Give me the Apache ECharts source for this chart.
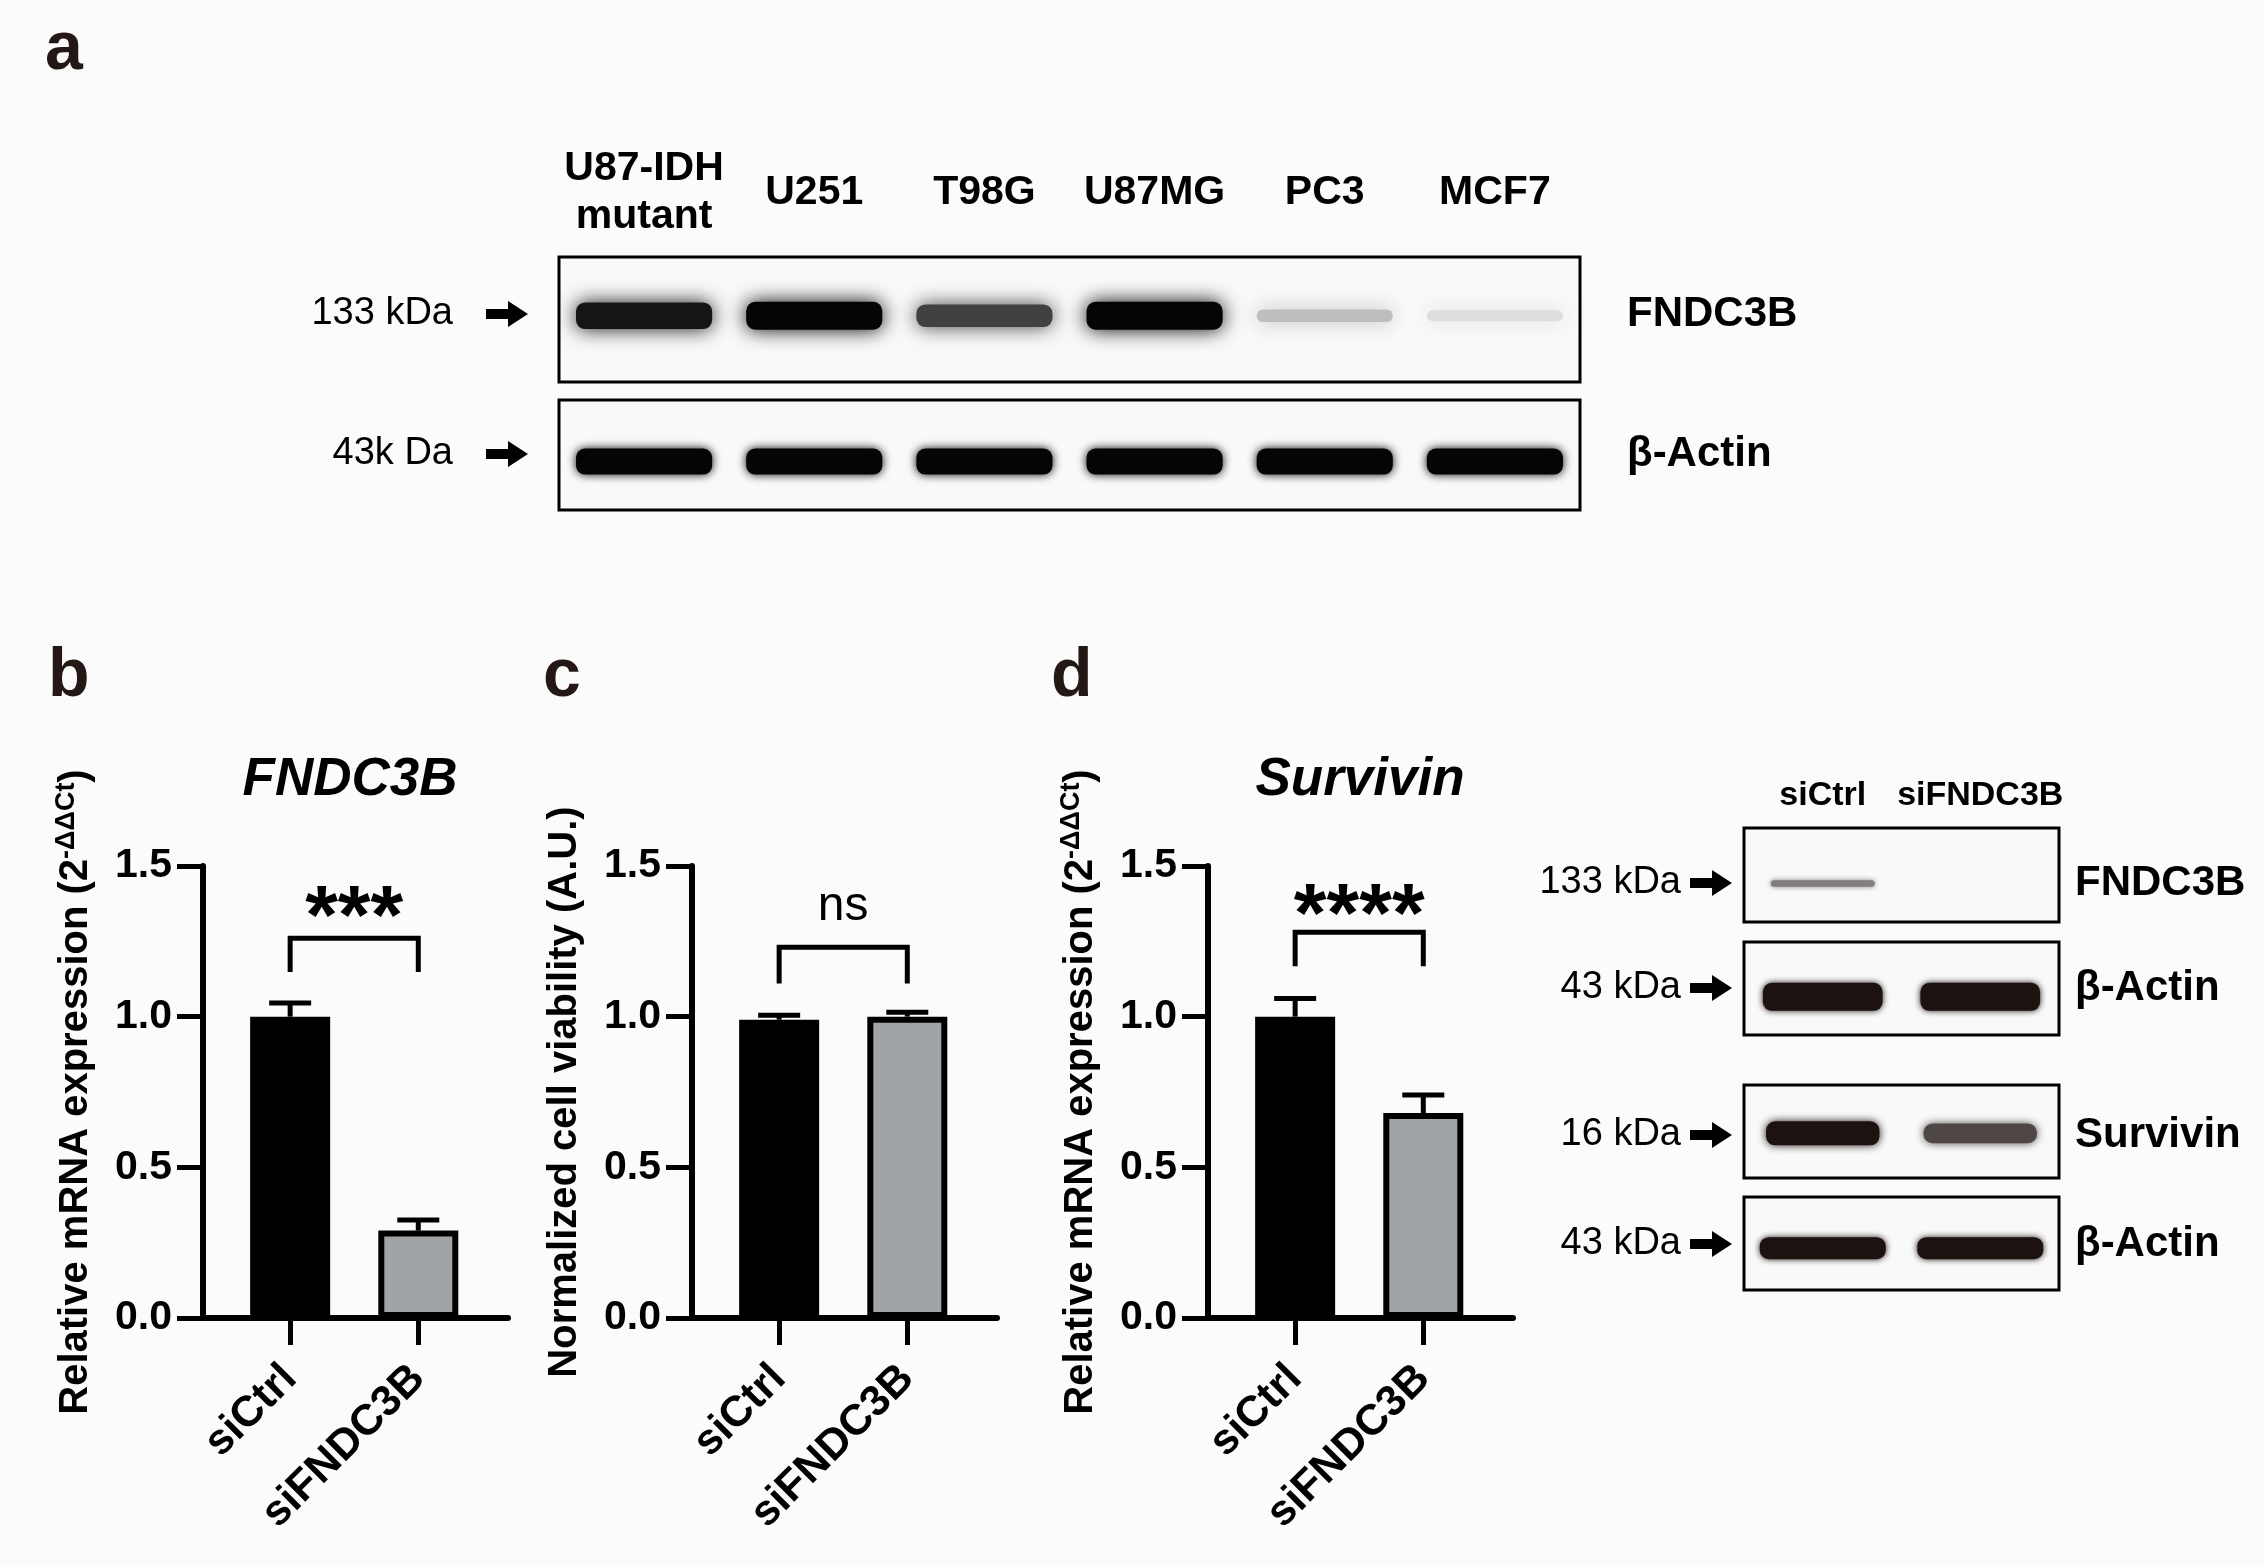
<!DOCTYPE html>
<html><head><meta charset="utf-8">
<script src="https://cdn.jsdelivr.net/npm/echarts@6/dist/echarts.min.js"></script>
<style>html,body{margin:0;padding:0;background:#fbfbfb}#c{width:2264px;height:1566px}</style>
</head><body><div id="c"></div>
<script>
// ---------------- DATA ----------------
const groups = ['siCtrl', 'siFNDC3B'];
const fndc3bMean = [1.0, 0.29];
const fndc3bSem = [0.045, 0.035];
const viabilityMean = [0.99, 1.0];
const viabilitySem = [0.015, 0.015];
const survivinMean = [1.0, 0.68];
const survivinSem = [0.06, 0.06];
const yTickValues = [0, 0.5, 1.0, 1.5];
const sigLabels = ['***', 'ns', '****'];

const cellLines = ['U87-IDH\nmutant', 'U251', 'T98G', 'U87MG', 'PC3', 'MCF7'];
const blotA_FNDC3B = [0.92, 1.0, 0.7, 1.0, 0.16, 0.06];
const blotA_actin = [1.0, 1.0, 1.0, 1.0, 1.0, 1.0];
const blotD_FNDC3B = [0.45, 0.0];
const blotD_actin1 = [1.0, 1.0];
const blotD_survivin = [1.0, 0.72];
const blotD_actin2 = [1.0, 1.0];

const blotALeft = ['133 kDa', '43k Da'];
const blotARight = ['FNDC3B', '\u03B2-Actin'];
const blotDLeft = ['133 kDa', '43 kDa', '16 kDa', '43 kDa'];
const blotDRight = ['FNDC3B', '\u03B2-Actin', 'Survivin', '\u03B2-Actin'];

// ---------------- HELPERS ----------------
const FONT = '"Liberation Sans", Arial, Helvetica, sans-serif';
const BAR_COLORS = ['#000000', '#a1a4a7'];
const X_MIN = -0.68, X_MAX = 1.70;

function errRender(params, api) {
  const x = api.value(0), m = api.value(1), e = api.value(2);
  const a = api.coord([x, m]);
  const ax = a[0], ay = a[1];
  const b = api.coord([x, m + e]);
  const bx = b[0], by = b[1];
  return { type: 'group', children: [
    { type: 'line', shape: { x1: ax, y1: ay, x2: bx, y2: by }, style: { stroke: '#000', lineWidth: 5, fill: 'none' } },
    { type: 'line', shape: { x1: bx - 21, y1: by, x2: bx + 21, y2: by }, style: { stroke: '#000', lineWidth: 5, fill: 'none' } }
  ]};
}

function sigTextRender(sig) {
  const isNs = sig === 'ns';
  return function (params, api) {
    const p = api.coord([api.value(0), api.value(1)]);
    return { type: 'text', x: p[0], y: p[1], style: { text: sig, textAlign: 'center', align: 'center',
      textVerticalAlign: 'middle', verticalAlign: 'middle',
      font: (isNs ? 'normal 48px ' : 'bold 84px ') + FONT, fill: '#000' } };
  };
}

function barPanel(i, mean, sem, sig, top, leg, ty) {
  return [
    { type: 'bar', xAxisIndex: i, yAxisIndex: i, barWidth: 80, z: 2, silent: true,
      data: mean.map((v, k) => ({ value: [k, v], itemStyle: { color: BAR_COLORS[k], borderColor: '#000', borderWidth: 6 } })) },
    { type: 'custom', xAxisIndex: i, yAxisIndex: i, z: 3, silent: true,
      data: mean.map((v, k) => [k, v, sem[k]]), renderItem: errRender },
    { type: 'line', xAxisIndex: i, yAxisIndex: i, z: 3, silent: true, symbol: 'none',
      lineStyle: { color: '#000', width: 5, cap: 'butt', join: 'miter' },
      data: [[0, leg], [0, top], [1, top], [1, leg]] },
    { type: 'custom', xAxisIndex: i, yAxisIndex: i, z: 3, silent: true,
      data: [[0.5, ty]], renderItem: sigTextRender(sig) }
  ];
}

function mix(c1, c2, t) {
  const p = c => [1, 3, 5].map(j => parseInt(c.substr(j, 2), 16));
  const a = p(c1), b = p(c2);
  return 'rgb(' + a.map((v, j) => Math.round(v + (b[j] - v) * t)).join(',') + ')';
}

function blotSeries(gi, signal, opt) {
  return { type: 'custom', xAxisIndex: gi, yAxisIndex: gi, clip: true, silent: true, z: 2,
    data: signal.map((s, k) => [k, s]),
    renderItem(params, api) {
      const s = api.value(1);
      if (!(s > 0)) return null;
      const c = api.coord([api.value(0), opt.y]);
      const cx = c[0], cy = c[1];
      const bw = api.size([1, 0])[0];
      const w = bw * opt.w, h = opt.h * (0.35 + 0.65 * s);
      const col = mix('#f6f6f6', opt.color, Math.pow(s, 0.8));
      return { type: 'rect', shape: { x: cx - w / 2, y: cy - h / 2, width: w, height: h, r: Math.min(h / 2, 9) },
        style: { fill: col, shadowBlur: opt.blur, shadowColor: col } };
    } };
}

// ---------------- LAYOUT ----------------
const barLefts = [203, 692, 1208];
const blotGridDefs = [
  { left: 559, top: 257, width: 1021, height: 125 },
  { left: 559, top: 400, width: 1021, height: 110 },
  { left: 1744, top: 828, width: 315, height: 94 },
  { left: 1744, top: 942, width: 315, height: 93 },
  { left: 1744, top: 1085, width: 315, height: 93 },
  { left: 1744, top: 1197, width: 315, height: 93 }
];

const grids = [];
const xAxes = [];
const yAxes = [];
const yNames = [
  '{a|Relative mRNA expression (2}{s|-\u0394\u0394Ct}{a|)}',
  '{a|Normalized cell viability (A.U.)}',
  '{a|Relative mRNA expression (2}{s|-\u0394\u0394Ct}{a|)}'
];

barLefts.forEach((l, i) => {
  grids.push({ left: l, top: 866, width: 305, height: 452, show: false, containLabel: false, outerBoundsMode: 'none' });
  xAxes.push({ gridIndex: i, type: 'value', min: X_MIN, max: X_MAX,
    axisLine: { show: true, onZero: false, lineStyle: { color: '#000', width: 6 } },
    axisTick: { show: true, customValues: [0, 1], length: 27, inside: false, lineStyle: { color: '#000', width: 5 } },
    axisLabel: { show: true, customValues: [0, 1], formatter: v => groups[Math.round(v)] || '', rotate: 45, margin: 54,
      fontSize: 43, fontWeight: 'bold', fontFamily: FONT, color: '#000' },
    splitLine: { show: false } });
  yAxes.push({ gridIndex: i, type: 'value', min: 0, max: 1.5, interval: 0.5,
    axisLine: { show: true, onZero: false, lineStyle: { color: '#000', width: 6 } },
    axisTick: { show: true, length: 26, lineStyle: { color: '#000', width: 5 } },
    axisLabel: { show: true, margin: 31, formatter: v => v.toFixed(1), fontSize: 41, fontWeight: 'bold', fontFamily: FONT, color: '#000' },
    splitLine: { show: false },
    name: yNames[i], nameLocation: 'middle', nameRotate: 90, nameGap: 104,
    nameTextStyle: { rich: {
      a: { fontSize: 40, fontWeight: 'bold', fontFamily: FONT, color: '#000', lineHeight: 46 },
      s: { fontSize: 27, fontWeight: 'bold', fontFamily: FONT, color: '#000', lineHeight: 28, verticalAlign: 'top' }
    } } });
});

blotGridDefs.forEach((g, j) => {
  const gi = 3 + j;
  grids.push(Object.assign({ show: true, borderColor: '#000', borderWidth: 3, backgroundColor: '#f9f9f9', containLabel: false, outerBoundsMode: 'none' }, g));
  const isA = j < 2;
  const showTop = (j === 0 || j === 2);
  xAxes.push({ gridIndex: gi, type: 'category', data: isA ? cellLines : groups, position: 'top', boundaryGap: true,
    axisLine: { show: false }, axisTick: { show: false }, splitLine: { show: false },
    axisLabel: { show: showTop, interval: 0, margin: isA ? 64 : 32, verticalAlign: 'middle',
      fontSize: isA ? 41 : 34, fontWeight: 'bold', fontFamily: FONT, color: '#000', lineHeight: 48 } });
  yAxes.push({ gridIndex: gi, type: 'value', min: 0, max: 1, show: false });
});

const series = [].concat(
  barPanel(0, fndc3bMean, fndc3bSem, sigLabels[0], 1.26, 1.148, 1.318),
  barPanel(1, viabilityMean, viabilitySem, sigLabels[1], 1.23, 1.11, 1.365),
  barPanel(2, survivinMean, survivinSem, sigLabels[2], 1.28, 1.167, 1.323),
  [
    blotSeries(3, blotA_FNDC3B, { y: 0.53, w: 0.8, h: 28, blur: 20, color: '#050505' }),
    blotSeries(4, blotA_actin, { y: 0.44, w: 0.8, h: 26, blur: 10, color: '#050505' }),
    blotSeries(5, blotD_FNDC3B, { y: 0.41, w: 0.66, h: 10, blur: 5, color: '#1c1210' }),
    blotSeries(6, blotD_actin1, { y: 0.41, w: 0.76, h: 28, blur: 6, color: '#1c1210' }),
    blotSeries(7, blotD_survivin, { y: 0.48, w: 0.72, h: 24, blur: 8, color: '#1c1210' }),
    blotSeries(8, blotD_actin2, { y: 0.45, w: 0.8, h: 22, blur: 6, color: '#1c1210' })
  ]
);

// ---------------- ANNOTATIONS ----------------
function arrow(x, y) {
  return { type: 'polygon', silent: true, shape: { points: [
    [x, y - 5], [x + 22, y - 5], [x + 22, y - 13], [x + 42, y], [x + 22, y + 13], [x + 22, y + 5], [x, y + 5]] },
    style: { fill: '#000' } };
}
function txt(text, x, y, font, align, fill) {
  return { type: 'text', silent: true, x: x, y: y, style: { text: text, font: font + ' ' + FONT, fill: fill || '#000',
    textAlign: align, align: align, textVerticalAlign: 'middle', verticalAlign: 'middle' } };
}
const graphics = [];
graphics.push(txt('a', 45, 50, 'bold 68px', 'left', '#231815'));
graphics.push(txt('b', 48, 677, 'bold 68px', 'left', '#231815'));
graphics.push(txt('c', 543, 677, 'bold 68px', 'left', '#231815'));
graphics.push(txt('d', 1051, 677, 'bold 68px', 'left', '#231815'));
graphics.push(txt('FNDC3B', 350, 780, 'italic bold 53px', 'center'));
graphics.push(txt('Survivin', 1360, 780, 'italic bold 53px', 'center'));
const aY = [314, 454];
aY.forEach((y, j) => {
  graphics.push(txt(blotALeft[j], 453, y, 'normal 38px', 'right'));
  graphics.push(arrow(486, y));
  graphics.push(txt(blotARight[j], 1627, y, 'bold 42px', 'left'));
});
const dY = [883, 988, 1135, 1244];
dY.forEach((y, j) => {
  graphics.push(txt(blotDLeft[j], 1681, y, 'normal 38px', 'right'));
  graphics.push(arrow(1690, y));
  graphics.push(txt(blotDRight[j], 2075, y, 'bold 42px', 'left'));
});

const option = {
  backgroundColor: '#fbfbfb',
  animation: false,
  textStyle: { fontFamily: FONT },
  grid: grids,
  xAxis: xAxes,
  yAxis: yAxes,
  series: series,
  graphic: graphics
};

const chart = echarts.init(document.getElementById('c'), null, { renderer: 'canvas', width: 2264, height: 1566 });
chart.setOption(option);
</script>
</body></html>
